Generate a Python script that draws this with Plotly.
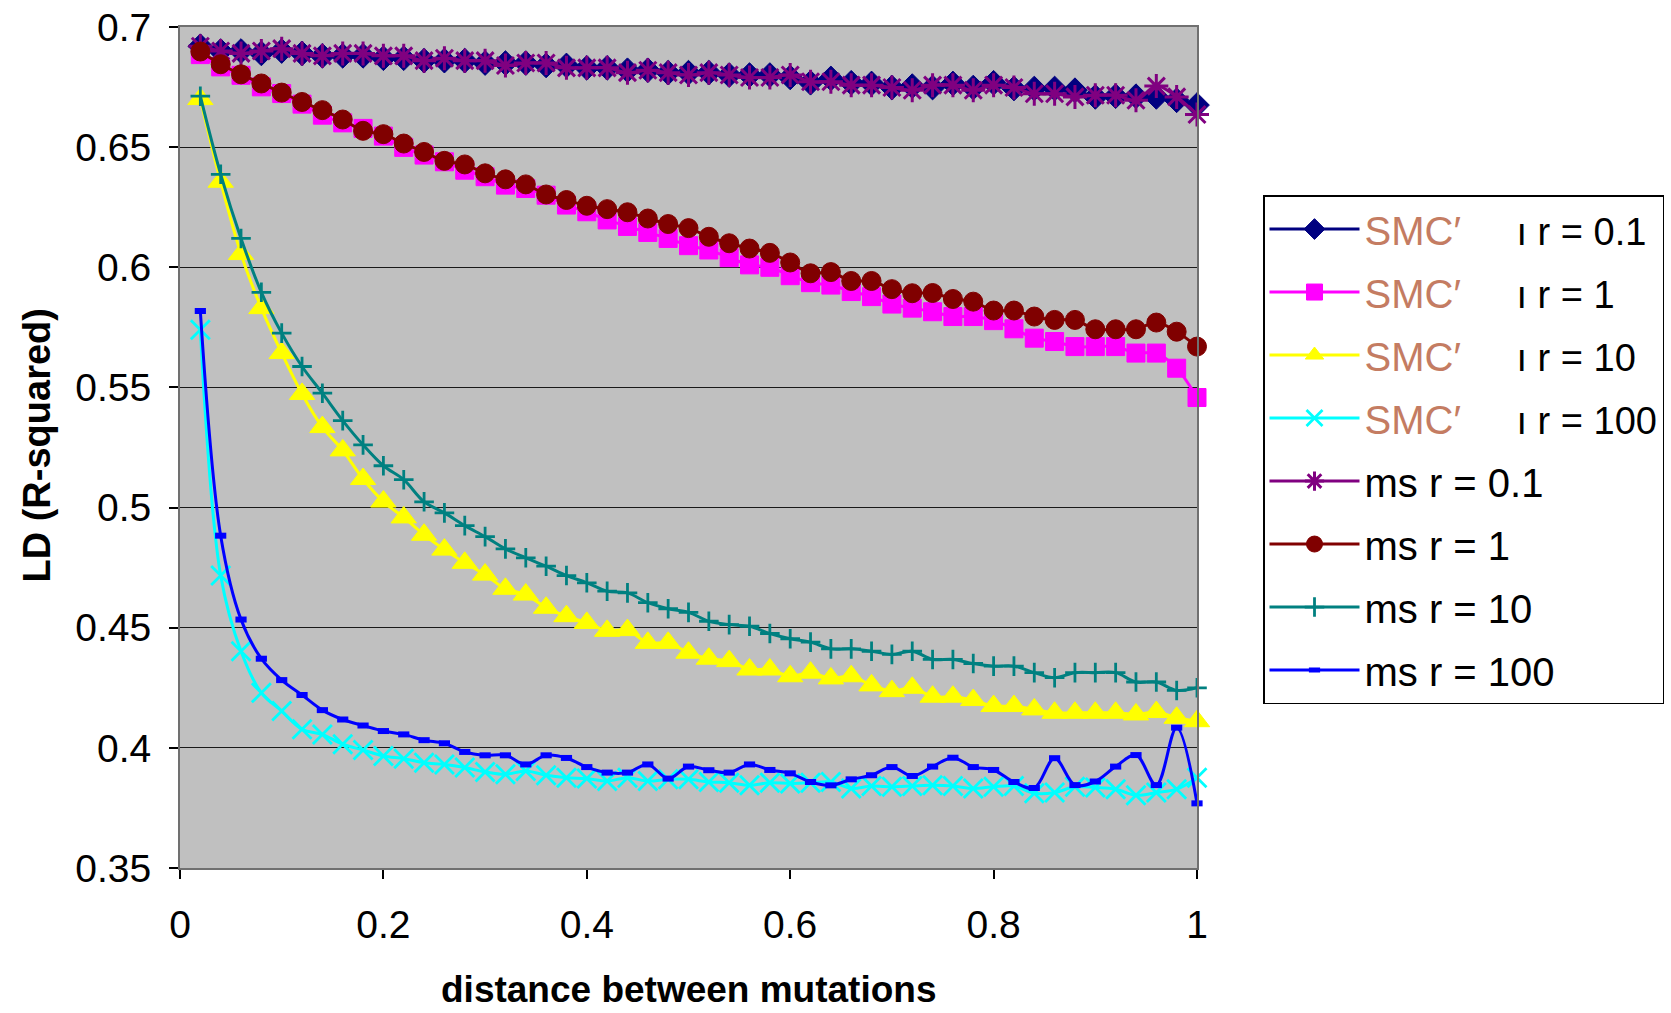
import plotly.graph_objects as go

# ---------------- data ----------------
x = [0.02, 0.04, 0.06, 0.08, 0.10, 0.12, 0.14, 0.16, 0.18, 0.20,
     0.22, 0.24, 0.26, 0.28, 0.30, 0.32, 0.34, 0.36, 0.38, 0.40,
     0.42, 0.44, 0.46, 0.48, 0.50, 0.52, 0.54, 0.56, 0.58, 0.60,
     0.62, 0.64, 0.66, 0.68, 0.70, 0.72, 0.74, 0.76, 0.78, 0.80,
     0.82, 0.84, 0.86, 0.88, 0.90, 0.92, 0.94, 0.96, 0.98, 1.00]

smc_r01 = [0.692, 0.690, 0.690, 0.689, 0.690, 0.689, 0.688, 0.688, 0.688, 0.687,
           0.687, 0.686, 0.686, 0.686, 0.685, 0.685, 0.685, 0.684, 0.684, 0.683,
           0.683, 0.682, 0.682, 0.681, 0.681, 0.681, 0.680, 0.680, 0.680, 0.679,
           0.6768, 0.6786, 0.6768, 0.6765, 0.6748, 0.6754, 0.6748, 0.6765, 0.6748, 0.6768,
           0.6744, 0.6744, 0.6744, 0.6737, 0.6709, 0.6712, 0.6712, 0.6709, 0.6695, 0.6675]

smc_r1 = [0.6885, 0.6834, 0.6799, 0.6751, 0.6723, 0.6679, 0.6633, 0.6601, 0.6578, 0.6546,
          0.6499, 0.6467, 0.6439, 0.6404, 0.6377, 0.6342, 0.6328, 0.6300, 0.6259, 0.6231,
          0.6197, 0.6170, 0.6145, 0.6120, 0.6090, 0.6072, 0.6040, 0.6010, 0.6000, 0.5965,
          0.5936, 0.5926, 0.5899, 0.5878, 0.5847, 0.5830, 0.5815, 0.5795, 0.5795, 0.5778,
          0.5744, 0.5705, 0.5691, 0.5670, 0.5670, 0.5670, 0.5643, 0.5643, 0.5580, 0.5458]

smc_r10 = [0.6700, 0.6356, 0.6055, 0.5830, 0.5643, 0.5473, 0.5335, 0.5238, 0.5119, 0.5025,
           0.4959, 0.4887, 0.4825, 0.4770, 0.4721, 0.4662, 0.4638, 0.4583, 0.4548, 0.4520,
           0.4487, 0.4490, 0.4437, 0.4437, 0.4396, 0.4371, 0.4361, 0.4326, 0.4326, 0.4298,
           0.4313, 0.4289, 0.4298, 0.4260, 0.4236, 0.4250, 0.4213, 0.4213, 0.4199, 0.4174,
           0.4174, 0.4160, 0.4146, 0.4146, 0.4146, 0.4146, 0.4139, 0.4149, 0.4125, 0.4111]

smc_r100 = [0.5740, 0.4717, 0.4402, 0.4229, 0.4153, 0.4077, 0.4056, 0.4015, 0.3991, 0.3966,
            0.3955, 0.3938, 0.3931, 0.3918, 0.3900, 0.3890, 0.3904, 0.3886, 0.3876, 0.3872,
            0.3862, 0.3876, 0.3862, 0.3869, 0.3869, 0.3858, 0.3855, 0.3844, 0.3855, 0.3852,
            0.3855, 0.3858, 0.3831, 0.3841, 0.3838, 0.3841, 0.3844, 0.3841, 0.3831, 0.3838,
            0.3841, 0.3811, 0.3814, 0.3838, 0.3835, 0.3828, 0.3803, 0.3814, 0.3828, 0.3876]

ms_r01 = [0.692, 0.690, 0.689, 0.690, 0.691, 0.689, 0.688, 0.689, 0.689, 0.688,
          0.688, 0.686, 0.687, 0.686, 0.686, 0.684, 0.685, 0.685, 0.683, 0.683,
          0.683, 0.681, 0.682, 0.681, 0.680, 0.681, 0.680, 0.679, 0.679, 0.680,
          0.6772, 0.6772, 0.6758, 0.6758, 0.6748, 0.6737, 0.6758, 0.6758, 0.6737, 0.6758,
          0.6748, 0.6722, 0.6722, 0.6709, 0.6716, 0.6716, 0.6695, 0.6754, 0.6709, 0.6636]

ms_r1 = [0.6898, 0.6845, 0.6803, 0.6765, 0.6727, 0.6688, 0.6654, 0.6615, 0.6568, 0.6554,
         0.6515, 0.6480, 0.6443, 0.6428, 0.6391, 0.6366, 0.6345, 0.6303, 0.6280, 0.6256,
         0.6242, 0.6229, 0.6203, 0.6180, 0.6163, 0.6127, 0.6100, 0.6078, 0.6060, 0.6020,
         0.5975, 0.5980, 0.5943, 0.5943, 0.5909, 0.5892, 0.5893, 0.5868, 0.5857, 0.5820,
         0.5820, 0.5795, 0.5781, 0.5781, 0.5742, 0.5742, 0.5742, 0.5770, 0.5732, 0.5670]

ms_r10 = [0.6712, 0.6387, 0.6120, 0.5896, 0.5726, 0.5587, 0.5476, 0.5362, 0.5261, 0.5174,
          0.5116, 0.5024, 0.4978, 0.4925, 0.4879, 0.4828, 0.4791, 0.4756, 0.4717, 0.4687,
          0.4652, 0.4645, 0.4604, 0.4579, 0.4564, 0.4527, 0.4513, 0.4506, 0.4476, 0.4454,
          0.4440, 0.4412, 0.4412, 0.4402, 0.4389, 0.4402, 0.4368, 0.4368, 0.4351, 0.4340,
          0.4340, 0.4313, 0.4292, 0.4313, 0.4313, 0.4313, 0.4274, 0.4274, 0.4239, 0.4250]

ms_r100 = [0.5818, 0.4883, 0.4534, 0.4371, 0.4282, 0.4220, 0.4157, 0.4118, 0.4093, 0.4070,
           0.4056, 0.4032, 0.4019, 0.3983, 0.3969, 0.3969, 0.3931, 0.3969, 0.3958, 0.3920,
           0.3897, 0.3897, 0.3931, 0.3872, 0.3922, 0.3907, 0.3897, 0.3931, 0.3908, 0.3894,
           0.3858, 0.3844, 0.3869, 0.3886, 0.3920, 0.3883, 0.3922, 0.3959, 0.3920, 0.3908,
           0.3858, 0.3833, 0.3957, 0.3845, 0.3860, 0.3922, 0.3970, 0.3845, 0.4084, 0.3769]

x_tick_vals = [0, 0.2, 0.4, 0.6, 0.8, 1]
x_tick_text = ["0", "0.2", "0.4", "0.6", "0.8", "1"]
y_tick_vals = [0.35, 0.4, 0.45, 0.5, 0.55, 0.6, 0.65, 0.7]
y_tick_text = ["0.35", "0.4", "0.45", "0.5", "0.55", "0.6", "0.65", "0.7"]

r_labels = ["0.1", "1", "10", "100"]
x_title = "distance between mutations"
y_title = "LD (R-squared)"

# ---------------- styling ----------------
FONT = "Liberation Sans, Arial, sans-serif"
SMC_COLOR = "#C47C62"
GAP = "\u00a0" * 5


def smc_name(r):
    return (f"<span style='color:{SMC_COLOR};font-size:40px'>SMC′</span>"
            f"{GAP}<span style='font-size:38px'>ı r = {r}</span>")


series = [
    (smc_name(r_labels[0]), smc_r01, "#000080", "diamond", 19, 1),
    (smc_name(r_labels[1]), smc_r1, "#FF00FF", "square", 18, 1),
    (smc_name(r_labels[2]), smc_r10, "#FFFF00", "triangle-up", 22, 1),
    (smc_name(r_labels[3]), smc_r100, "#00FFFF", "x-thin-open", 19, 2.8),
    (f"ms r = {r_labels[0]}", ms_r01, "#800080", "asterisk-open", 20, 3),
    (f"ms r = {r_labels[1]}", ms_r1, "#800000", "circle", 19, 1),
    (f"ms r = {r_labels[2]}", ms_r10, "#008080", "cross-thin-open", 14, 2.8),
    (f"ms r = {r_labels[3]}", ms_r100, "#0000FF", "line-ew-open", 8, 6),
]

fig = go.Figure()
for i, (name, ys, color, symbol, size, lw) in enumerate(series):
    fig.add_trace(go.Scatter(
        x=x, y=ys, name=name, mode="lines+markers",
        legendgroup=f"g{i}",
        line=dict(color=color, width=3, shape="spline", smoothing=1.0),
        marker=dict(symbol=symbol, size=size, color=color,
                    line=dict(color=color, width=lw)),
        cliponaxis=False,
    ))

fig.update_layout(
    width=1671, height=1013,
    margin=dict(l=180, r=474, t=27, b=145, autoexpand=False),
    paper_bgcolor="white",
    plot_bgcolor="#C0C0C0",
    font=dict(family=FONT, size=38, color="black"),
    showlegend=True,
    legend=dict(
        x=1.0649, y=0.8002, xanchor="left", yanchor="top",
        bgcolor="white", bordercolor="black", borderwidth=1.5,
        font=dict(family=FONT, size=40, color="black"),
        tracegroupgap=8, traceorder="grouped",
        itemwidth=90,
    ),
    xaxis=dict(
        range=[0, 1], tickvals=x_tick_vals, ticktext=x_tick_text,
        ticks="outside", ticklen=9, tickcolor="black", tickwidth=1.5,
        showline=True, linecolor="#707070", linewidth=2, mirror=True,
        showgrid=False, zeroline=False, automargin=False,
        ticklabeloverflow="allow",
        tickfont=dict(family=FONT, size=39, color="black"),
        ticklabelstandoff=12,
    ),
    yaxis=dict(
        range=[0.35, 0.7], tickvals=y_tick_vals, ticktext=y_tick_text,
        ticks="outside", ticklen=9, tickcolor="black", tickwidth=1.5,
        showline=True, linecolor="#707070", linewidth=2, mirror=True,
        showgrid=True, gridcolor="#1a1a1a", gridwidth=1.2, zeroline=False,
        automargin=False, ticklabeloverflow="allow",
        tickfont=dict(family=FONT, size=39, color="black"),
        ticklabelstandoff=10,
    ),
    annotations=[
        dict(text=f"<b>{x_title}</b>", xref="paper", yref="paper",
             x=0.5, y=-0.1712, xanchor="center", yanchor="bottom",
             showarrow=False, font=dict(family=FONT, size=37, color="black")),
        dict(text=f"<b>{y_title}</b>", xref="paper", yref="paper",
             x=-0.1406, y=0.5024, xanchor="center", yanchor="middle",
             textangle=-90, showarrow=False,
             font=dict(family=FONT, size=38, color="black")),
    ],
)

# remove the page's default 8px body margin so the figure fills the window
fig.write_html("out.html", config={"displayModeBar": False},
               post_script="document.body.style.margin='0';")
